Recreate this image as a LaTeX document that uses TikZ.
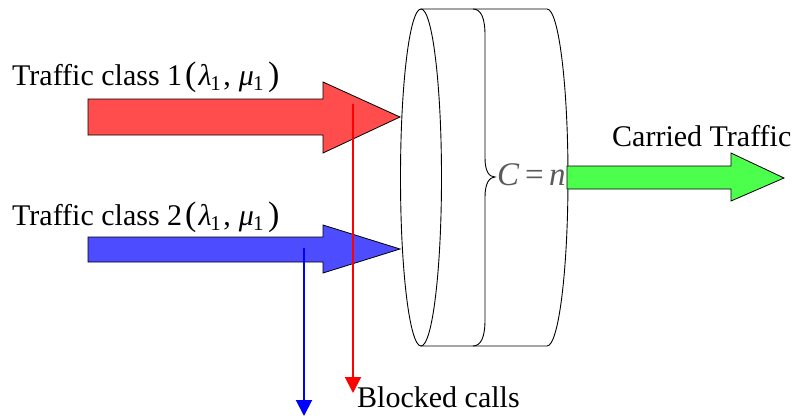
\documentclass[tikz,border=0pt]{standalone}
\usepackage{fontspec}
\setmainfont{Liberation Serif}
\usetikzlibrary{arrows.meta}
\definecolor{redfill}{RGB}{255,77,77}
\definecolor{bluefill}{RGB}{77,77,255}
\definecolor{greenfill}{RGB}{77,255,77}
\definecolor{cgray}{RGB}{90,90,90}
\newcommand{\lampair}{\kern3pt{\fontsize{34}{36}\selectfont(}\kern2pt\textit{λ}\textsubscript{\kern-1pt 1}\kern2pt,\kern8pt\textit{μ}\textsubscript{\kern-1pt 1}\kern4pt{\fontsize{34}{36}\selectfont)}}
\begin{document}
\begin{tikzpicture}[x=1pt,y=-1pt,
  blockarrow/.style={draw=black, line width=0.8pt, line join=miter},
  dropline/.style={line width=2pt, -{Triangle[length=16pt,width=16pt]}},
  lbl/.style={anchor=base west, inner sep=0pt, font=\fontsize{30}{36}\selectfont},
  cyl/.style={draw=black, line width=0.9pt}]
\useasboundingbox (0,0) rectangle (804,416);
% input block arrows
\draw[blockarrow, fill=redfill] (88,99) -- (323,99) -- (323,82) -- (400,117) -- (323,153) -- (323,135) -- (88,135) -- cycle;
\draw[blockarrow, fill=bluefill] (88,237) -- (323,237) -- (323,225) -- (400,249) -- (323,273) -- (323,262) -- (88,262) -- cycle;
% cylinder
\draw[cyl, fill=white] (421,9) -- (547,9) arc[start angle=-90, end angle=90, x radius=21, y radius=168.5] -- (421,346) -- cycle;
\draw[cyl, fill=white] (421,177.5) ellipse[x radius=20.5, y radius=168.5];
% brace
\draw[cyl] (473,9) .. controls (481,9) and (485,18) .. (485,35) -- (485,158)
  .. controls (485,171) and (489,177) .. (495,177)
  .. controls (489,177) and (485,184) .. (485,197) -- (485,320)
  .. controls (485,337) and (481,346) .. (473,346);
\node[lbl, text=cgray, font=\fontsize{33}{36}\selectfont] (cap) at (497,185) {\textit{C}\,=\,\textit{n}};
% output block arrow
\draw[blockarrow, fill=greenfill] (567,166) -- (731,166) -- (731,153) -- (784,178) -- (731,201) -- (731,189) -- (567,189) -- cycle;
% labels
\node[lbl] (t1) at (12,85) {Traffic class 1\lampair};
\node[lbl] (t2) at (12,225) {Traffic class 2\lampair};
\node[lbl] (ct) at (612,146) {Carried Traffic};
\node[lbl] (bc) at (357,407) {Blocked calls};
% blocked-call lines
\coordinate (r0) at (353,104);
\coordinate (r1) at (353,393);
\coordinate (b0) at (304,248);
\coordinate (b1) at (304,416);
\draw[dropline, red] (r0) -- (r1);
\draw[dropline, blue] (b0) -- (b1);
\end{tikzpicture}
\end{document}
